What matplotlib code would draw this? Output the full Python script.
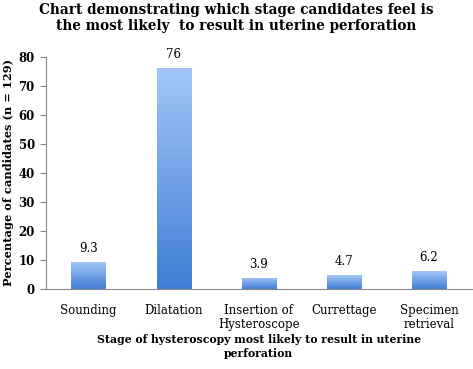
import numpy as np
import matplotlib
matplotlib.use('Agg')
from matplotlib import pyplot as plt
from matplotlib.colors import LinearSegmentedColormap

stages = ['Sounding', 'Dilatation', 'Insertion of\nHysteroscope', 'Currettage', 'Specimen\nretrieval']
percent = [9.3, 76, 3.9, 4.7, 6.2]
labels = ['9.3', '76', '3.9', '4.7', '6.2']
yticks = [0, 10, 20, 30, 40, 50, 60, 70, 80]

plt.rcParams['font.family'] = ['DejaVu Serif']

fig = plt.figure(figsize=(4.73, 3.69), dpi=100)
ax = fig.add_axes([0.097, 0.217, 0.9, 0.629])

x = np.arange(len(stages))
bars = ax.bar(x, percent, width=0.4, color='none', edgecolor='none')

# gradient fill, light at top dark at bottom
cmap = LinearSegmentedColormap.from_list('blu', ['#3f7dd5', '#a3c7f8'])
grad = np.linspace(0, 1, 256).reshape(-1, 1)
for b in bars:
    x0, y0 = b.get_x(), b.get_y()
    w, h = b.get_width(), b.get_height()
    im = ax.imshow(grad, cmap=cmap, origin='lower', aspect='auto',
                   extent=[x0, x0 + w, y0, y0 + h], zorder=2)
    im.set_clip_path(b)

for xi, v, t in zip(x, percent, labels):
    ax.annotate(t, (xi, v), xytext=(0, 5), textcoords='offset points',
                ha='center', va='bottom', fontsize=8.5)

ax.set_xlim(-0.5, len(stages) - 0.5)
ax.set_ylim(0, 80)
ax.set_yticks(yticks)
ax.set_xticks(x)
ax.set_xticklabels(stages, fontsize=8.5, linespacing=1.1)
ax.tick_params(axis='x', length=0, pad=11)
ax.tick_params(axis='y', length=4, color='#888888', labelsize=8.5, pad=4)
for lbl in ax.get_yticklabels():
    lbl.set_fontweight('bold')

for s in ['top', 'right']:
    ax.spines[s].set_visible(False)
for s in ['left', 'bottom']:
    ax.spines[s].set_color('#888888')

ax.set_ylabel('Percentage of candidates (n = 129)', fontsize=8.2, fontweight='bold', labelpad=3)
ax.set_xlabel('Stage of hysteroscopy most likely to result in uterine\nperforation',
              fontsize=7.8, fontweight='bold', labelpad=2, linespacing=1.3)
fig.suptitle('Chart demonstrating which stage candidates feel is\nthe most likely  to result in uterine perforation',
             fontsize=9.8, fontweight='bold', x=0.5, y=0.993, linespacing=1.25)

fig.savefig('out.png', dpi=100)
